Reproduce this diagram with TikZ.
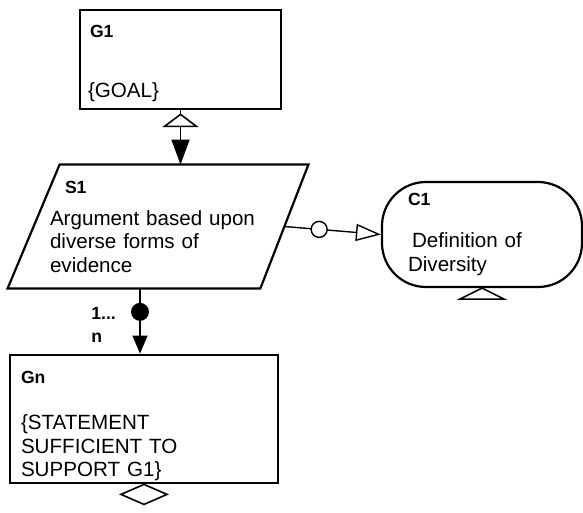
\documentclass[tikz,border=0pt]{standalone}
\usepackage{fontspec}
\setmainfont{Liberation Sans}
\usetikzlibrary{positioning, arrows.meta, calc}

% small bold identifiers of the GSN elements
\newcommand{\tagname}[1]{{\fontsize{8.8}{9}\selectfont\bfseries #1}}

\begin{document}
\begin{tikzpicture}[
        x=0.5pt, y=-0.5pt,
        font=\fontsize{10.3}{11.75}\selectfont,
        % GSN element styles
        goal/.style={
            rectangle,
            draw,
            line width=1.4pt,
            align=left,
            inner ysep=0pt
        },
        strategy/.style={
            rectangle,
            align=left,
            inner ysep=0pt
        },
        context/.style={
            rectangle,
            draw,
            rounded corners=22pt,
            line width=1.1pt,
            align=left,
            inner ysep=0pt
        },
        % connector styles
        link/.style={line width=0.7pt},
        solved/.style={link, -{Triangle[length=12.5pt, width=9pt]}},
        incontext/.style={link, -{Triangle[open, length=12.5pt, width=8.5pt]}},
        ringdot/.style={circle, draw, fill=white, line width=0.7pt, minimum size=8pt, inner sep=0pt},
        soliddot/.style={circle, fill=black, minimum size=9pt, inner sep=0pt},
        hollow/.style={draw, fill=white, line width=0.8pt},
        multtext/.style={font=\fontsize{8.8}{11.75}\selectfont\bfseries, align=left, inner sep=0pt}
    ]

    \useasboundingbox (0,0) rectangle (583,513);

    % -- Elements --
    \node[goal, inner xsep=4pt, text width=92.5pt, minimum height=49.5pt] (g1) at (180.5,59.5)
        {\rule{0pt}{10pt}\tagname{\hspace*{1pt}G1}\\[18.6pt]\{GOAL\}};

    \node[strategy, inner xsep=8pt, text width=109pt, minimum height=61.5pt] (s1) at (159,226.5)
        {\hspace*{7.5pt}\tagname{S1}\\[4.25pt]Argument based upon\\diverse forms of\\evidence};
    \draw[line width=1.1pt] ($(s1.north west)+(26,0)$) -- ($(s1.north east)+(24,0)$)
        -- ($(s1.south east)+(-24,0)$) -- ($(s1.south west)+(-26,0)$) -- cycle;

    \node[context, inner xsep=13pt, text width=74pt, minimum height=52.5pt] (c1) at (482,234.5)
        {\tagname{C1}\\[9.25pt]\hspace*{2pt}Definition of\\Diversity};

    \node[goal, inner xsep=5.5pt, text width=123pt, minimum height=64pt] (gn) at (144,419)
        {\rule{0pt}{13.5pt}\tagname{Gn}\\[11.25pt]\{STATEMENT\\SUFFICIENT TO\\SUPPORT G1\}};

    % -- Connectors --
    \draw[solved] (g1.south) -- (g1.south |- s1.north);
    \draw[hollow] ($(g1.south)+(0,4)$) -- ++(16,12) -- ++(-32,0) -- cycle;

    \draw[incontext] (s1.east) -- node[pos=0.36, ringdot] (opt) {} (c1.west);

    \coordinate (gtop) at ($(gn.north)+(-4,0)$);
    \draw[link, -{Triangle[length=9pt, width=7.5pt]}] (s1.south -| gtop) -- node[pos=0.36, soliddot] (many) {} (gtop);
    \node[multtext, anchor=north west] (mult) at (91,306.5) {1...\\n};

    % -- Undeveloped marks --
    \draw[hollow] (c1.south) -- ++(22,11) -- ++(-44,0) -- cycle;
    \draw[hollow] (gn.south) -- ++(23,10) -- ++(-23,10) -- ++(-23,-10) -- cycle;

\end{tikzpicture}
\end{document}
